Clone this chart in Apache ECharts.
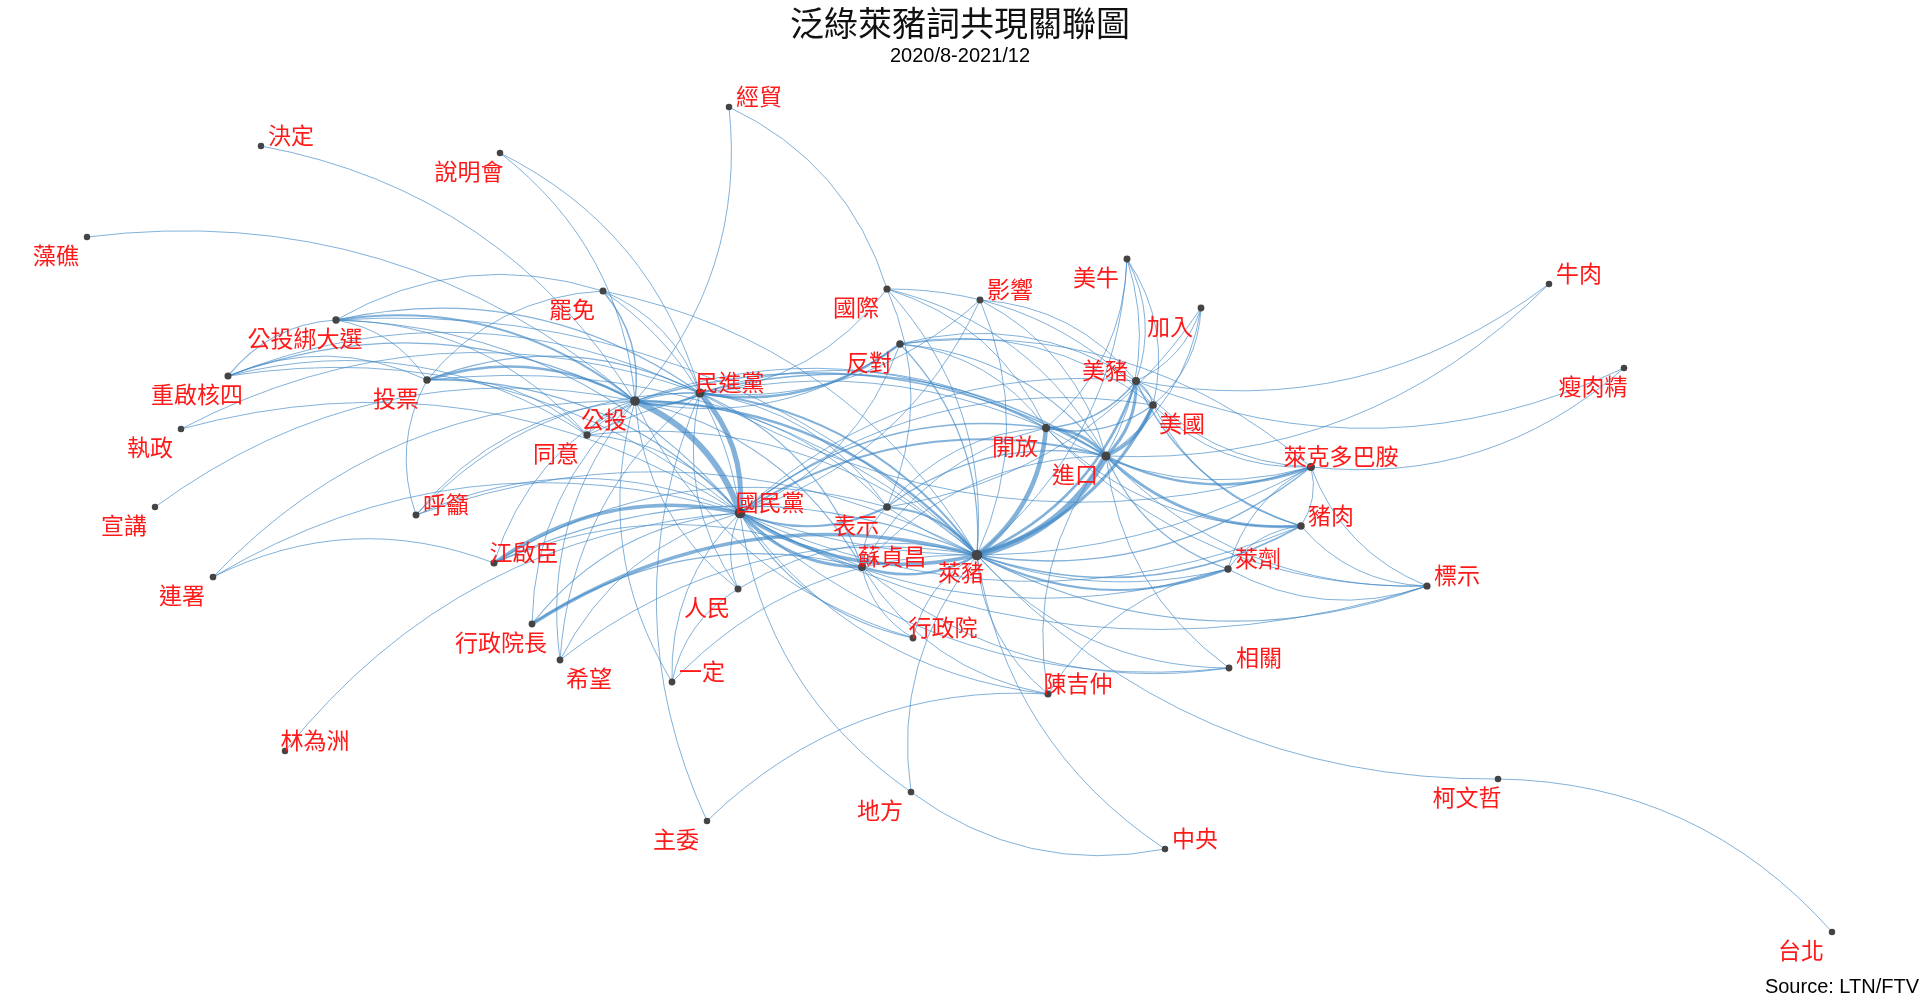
<!DOCTYPE html>
<html lang="zh-TW">
<head>
<meta charset="UTF-8">
<title>泛綠萊豬詞共現關聯圖</title>
<script src="https://cdn.jsdelivr.net/npm/echarts@6/dist/echarts.min.js"></script>
<style>
    html, body { margin: 0; padding: 0; background: #fff; }
    #chart { width: 1920px; height: 1001px; }
</style>
</head>
<body>
<div id="chart"></div>
<script>
// 詞彙節點與佈局座標（佈局空間單位，對應 0..1920 × 0..1001）
const words = ['萊豬','國民黨','公投','民進黨','進口','開放','美豬','美國','表示','蘇貞昌',
    '萊克多巴胺','豬肉','萊劑','標示','反對','國際','影響','美牛','加入','牛肉',
    '瘦肉精','經貿','決定','說明會','藻礁','罷免','公投綁大選','重啟核四','投票','執政',
    '同意','宣講','呼籲','江啟臣','連署','人民','行政院長','行政院','希望','一定',
    '林為洲','地方','主委','陳吉仲','相關','中央','柯文哲','台北'];
const layoutX = [977,740,635,700,1106,1046,1136,1153,887,862,
    1311,1301,1228,1427,900,887,980,1127,1201,1549,
    1624,729,261,500,87,603,336,228,427,181,
    587,155,416,494,213,738,532,913,560,672,
    285,911,707,1048,1229,1165,1498,1832];
const layoutY = [555,513,401,393,456,428,381,405,507,567,
    467,526,569,586,344,289,300,259,308,284,
    368,107,146,153,237,291,320,376,380,429,
    435,507,515,563,577,589,624,638,660,682,
    751,792,821,694,668,849,779,932];

// 共現連結 [詞1, 詞2, 強度]
const links = [
    ['公投','國民黨',6], ['民進黨','國民黨',5], ['進口','萊豬',6.5], ['開放','萊豬',4.5],
    ['民進黨','公投',2.5], ['萊豬','國民黨',3.5], ['萊豬','蘇貞昌',2.5], ['蘇貞昌','國民黨',3],
    ['行政院長','萊豬',3.5], ['江啟臣','國民黨',3.5], ['公投','萊豬',2.5], ['民進黨','萊豬',2],
    ['美豬','萊豬',2.5], ['美國','萊豬',3], ['表示','萊豬',2], ['表示','國民黨',2],
    ['開放','進口',3], ['美豬','進口',3], ['美國','進口',3.5], ['豬肉','進口',3],
    ['萊克多巴胺','進口',2.5], ['國民黨','進口',2], ['國民黨','開放',1.5], ['公投','進口',1.5],
    ['民進黨','進口',1.5], ['反對','民進黨',2.5], ['美豬','開放',1.5], ['美國','開放',1.5],
    ['美豬','美國',1.2], ['表示','進口',1.2], ['表示','開放',1], ['蘇貞昌','表示',1],
    ['國民黨','美豬',1], ['國民黨','美國',1], ['公投','開放',1], ['民進黨','開放',1],
    ['萊克多巴胺','萊豬',1.5], ['豬肉','萊豬',1.5], ['萊劑','萊豬',2], ['標示','萊豬',1.2],
    ['相關','萊豬',1], ['公投','表示',1], ['民進黨','表示',1], ['民進黨','蘇貞昌',1.2],
    ['公投','蘇貞昌',1.2], ['蘇貞昌','進口',1], ['蘇貞昌','開放',1],
    ['經貿','公投',1], ['經貿','國際',1], ['決定','公投',1],
    ['說明會','公投',1], ['說明會','民進黨',1], ['藻礁','公投',1],
    ['罷免','公投',1.5], ['罷免','民進黨',1], ['罷免','國民黨',1], ['投票','罷免',1],
    ['罷免','萊豬',1], ['公投綁大選','罷免',1],
    ['國際','民進黨',1], ['國際','進口',1], ['國際','萊豬',1], ['國際','美國',1],
    ['國際','開放',1], ['國際','表示',1],
    ['影響','萊豬',1], ['影響','進口',1], ['影響','民進黨',1], ['影響','美豬',1], ['影響','國民黨',1],
    ['美牛','美豬',1], ['美牛','美國',1], ['美牛','萊豬',1], ['美牛','進口',1], ['美牛','開放',1],
    ['加入','美國',1], ['加入','進口',1], ['加入','表示',1], ['加入','美豬',1],
    ['牛肉','美豬',1], ['牛肉','進口',1],
    ['瘦肉精','美豬',1], ['瘦肉精','萊克多巴胺',1],
    ['萊克多巴胺','美豬',1], ['萊克多巴胺','美國',1], ['萊克多巴胺','開放',1],
    ['萊克多巴胺','國民黨',1], ['萊克多巴胺','民進黨',1], ['萊克多巴胺','豬肉',1],
    ['標示','萊克多巴胺',1],
    ['豬肉','美豬',1.5], ['豬肉','開放',1], ['豬肉','美國',1], ['標示','豬肉',1],
    ['萊劑','豬肉',1], ['豬肉','國民黨',1],
    ['標示','萊劑',1], ['萊劑','進口',1.2], ['陳吉仲','萊劑',1], ['萊劑','萊克多巴胺',1],
    ['萊劑','國民黨',1], ['萊劑','表示',1],
    ['標示','進口',1], ['標示','開放',1], ['標示','國民黨',1],
    ['相關','進口',1], ['相關','國民黨',1], ['相關','蘇貞昌',1],
    ['陳吉仲','萊豬',1], ['陳吉仲','國民黨',1], ['陳吉仲','進口',1], ['陳吉仲','蘇貞昌',1],
    ['主委','陳吉仲',1], ['主委','民進黨',1],
    ['中央','地方',1], ['中央','萊豬',1],
    ['地方','國民黨',1], ['地方','萊豬',1],
    ['柯文哲','台北',1], ['柯文哲','萊豬',1],
    ['林為洲','國民黨',1],
    ['連署','公投',1], ['連署','國民黨',1], ['連署','江啟臣',1],
    ['宣講','公投',1],
    ['執政','民進黨',1], ['執政','國民黨',1],
    ['重啟核四','公投',1.2], ['重啟核四','投票',1], ['重啟核四','公投綁大選',1.2],
    ['重啟核四','民進黨',1], ['重啟核四','國民黨',1], ['重啟核四','同意',1],
    ['公投綁大選','公投',2], ['公投綁大選','投票',1], ['公投綁大選','民進黨',1.2],
    ['公投綁大選','國民黨',1.2], ['公投綁大選','同意',1], ['公投綁大選','萊豬',1],
    ['投票','公投',2.5], ['投票','民進黨',1.2], ['投票','國民黨',1.2], ['投票','同意',1],
    ['呼籲','投票',1], ['投票','萊豬',1],
    ['呼籲','公投',1], ['呼籲','國民黨',1], ['呼籲','民進黨',1], ['呼籲','萊豬',1],
    ['同意','公投',1.2], ['同意','萊豬',1], ['同意','民進黨',1], ['同意','國民黨',1], ['同意','開放',1],
    ['江啟臣','萊豬',1.2], ['江啟臣','公投',1], ['江啟臣','蘇貞昌',1], ['江啟臣','表示',1],
    ['行政院長','國民黨',1.2], ['行政院長','蘇貞昌',1.2], ['行政院長','公投',1],
    ['希望','國民黨',1], ['希望','公投',1], ['希望','萊豬',1], ['希望','民進黨',1],
    ['一定','國民黨',1], ['一定','公投',1], ['一定','萊豬',1], ['一定','人民',1],
    ['人民','國民黨',1], ['人民','公投',1], ['人民','民進黨',1], ['人民','萊豬',1],
    ['反對','萊豬',1.2], ['反對','進口',1.2], ['反對','開放',1], ['反對','美豬',1],
    ['反對','國民黨',1], ['反對','公投',1], ['反對','美國',1], ['反對','萊克多巴胺',1],
    ['行政院','國民黨',1.2], ['行政院','萊豬',1], ['行政院','蘇貞昌',1], ['行政院','公投',1]
];

// 標籤相對節點的擺放方向（仿 repel 結果）
const labelSide = {
    '國民黨':'TR','公投':'BL','民進黨':'TR','進口':'BL','開放':'BL','美豬':'TL','美國':'BR',
    '表示':'BL','蘇貞昌':'TR','萊克多巴胺':'TR','豬肉':'TR','萊劑':'TR','標示':'TR','反對':'BL',
    '國際':'BL','影響':'TR','美牛':'BL','加入':'BL','牛肉':'TR','瘦肉精':'BL','經貿':'TR',
    '決定':'TR','說明會':'BL','藻礁':'BL','罷免':'BL','公投綁大選':'BL','重啟核四':'BL',
    '投票':'BL','執政':'BL','同意':'BL','宣講':'BL','呼籲':'TR','江啟臣':'TR','連署':'BL',
    '人民':'BL','行政院長':'BL','行政院':'TR','希望':'BR','一定':'TR','林為洲':'TR',
    '地方':'BL','主委':'BL','陳吉仲':'TR','相關':'TR','中央':'TR','柯文哲':'BL','台北':'BL',
    '萊豬':'LB'
};
const sideOffset = {
    BL: [-31, 18], TR: [30, -11], TL: [-31, -11], BR: [29, 18], LB: [-16, 17]
};

const myChart = echarts.init(document.getElementById('chart'));

// 節點度數決定點的大小
const degree = {};
words.forEach(w => { degree[w] = 0; });
links.forEach(l => { degree[l[0]]++; degree[l[1]]++; });

const nodes = words.map((w, i) => ({
    name: w,
    value: [layoutX[i], layoutY[i]],
    symbolSize: Math.min(11.5, 6.3 + degree[w] * 0.13),
    label: { offset: sideOffset[labelSide[w]] }
}));

const edges = links.map(l => ({
    source: l[0],
    target: l[1],
    lineStyle: { width: l[2] }
}));

const option = {
    animation: false,
    backgroundColor: '#ffffff',
    title: [
        {
            text: '泛綠萊豬詞共現關聯圖',
            left: 'center',
            top: 6,
            padding: 0,
            textStyle: {
                fontFamily: 'Noto Sans CJK TC',
                fontSize: 34,
                fontWeight: 'normal',
                color: '#111'
            }
        },
        {
            text: '2020/8-2021/12',
            left: 'center',
            top: 46,
            padding: 0,
            textStyle: {
                fontFamily: 'Liberation Sans',
                fontSize: 20,
                fontWeight: 'normal',
                color: '#000'
            }
        },
        {
            text: 'Source: LTN/FTV',
            right: 1,
            bottom: 4,
            padding: 0,
            textStyle: {
                fontFamily: 'Liberation Sans',
                fontSize: 20,
                fontWeight: 'normal',
                color: '#000'
            }
        }
    ],
    grid: { left: 0, right: 0, top: 0, bottom: 0 },
    xAxis: { type: 'value', min: 0, max: 1920, show: false },
    yAxis: { type: 'value', min: 0, max: 1001, inverse: true, show: false },
    series: [{
        type: 'graph',
        layout: 'none',
        coordinateSystem: 'cartesian2d',
        symbol: 'circle',
        itemStyle: { color: '#444444' },
        label: {
            show: true,
            position: 'inside',
            align: 'center',
            verticalAlign: 'middle',
            color: '#ff1a1a',
            fontSize: 23,
            fontFamily: 'Noto Sans CJK TC'
        },
        lineStyle: {
            color: '#3f87c4',
            opacity: 0.65,
            curveness: 0.22
        },
        emphasis: { disabled: true },
        data: nodes,
        links: edges
    }]
};

myChart.setOption(option);
window.addEventListener('resize', function () { myChart.resize(); });
</script>
</body>
</html>
